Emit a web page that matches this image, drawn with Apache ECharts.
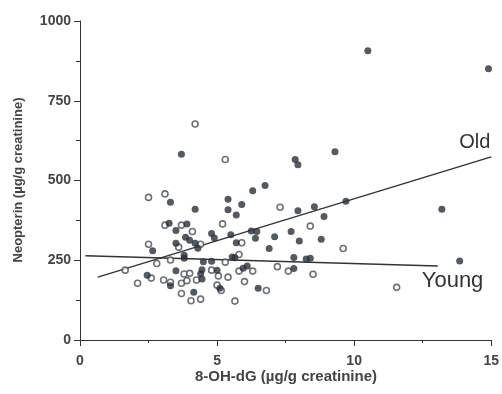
<!DOCTYPE html>
<html>
<head>
<meta charset="utf-8">
<script src="https://cdn.jsdelivr.net/npm/echarts@6/dist/echarts.min.js"></script>
<style>
  html, body { margin: 0; padding: 0; background: #fff; }
  #chart { width: 502px; height: 394px; }
</style>
</head>
<body>
<div id="chart"></div>
<script>
// Old group (filled dots): [8-OH-dG, neopterin]
const oldPoints = [
  [10.5, 907], [14.9, 850], [3.7, 582], [9.3, 590], [7.85, 566], [7.95, 549],
  [6.75, 484], [6.3, 468], [5.4, 441], [3.3, 432], [5.9, 425], [4.2, 410],
  [5.4, 408], [5.7, 392], [7.95, 405], [8.55, 418], [8.9, 387], [9.7, 435],
  [13.2, 410], [13.85, 248], [7.7, 340], [7.1, 324], [8.0, 310], [8.8, 316],
  [6.9, 287], [7.8, 259], [8.25, 254], [8.4, 256], [7.8, 224], [6.5, 162],
  [6.4, 319], [3.25, 366], [3.9, 364], [3.5, 343], [3.85, 322], [4.0, 313],
  [3.5, 303], [2.65, 280], [3.8, 266], [3.8, 256], [3.5, 217], [2.45, 203],
  [3.3, 170], [4.15, 150], [4.45, 191], [4.45, 220], [4.4, 208], [5.0, 219],
  [5.1, 162], [6.1, 232], [5.95, 225], [4.5, 245], [4.8, 247], [5.55, 260],
  [5.65, 258], [4.2, 303], [4.3, 288], [4.8, 334], [4.9, 320], [5.5, 330],
  [5.7, 305], [6.25, 342], [6.45, 340]
];

// Young group (open circles)
const youngPoints = [
  [4.2, 677], [5.3, 566], [2.5, 447], [3.1, 458], [7.3, 416], [8.4, 357],
  [9.6, 287], [7.2, 230], [7.6, 216], [8.5, 206], [11.55, 165], [6.8, 155],
  [3.1, 360], [3.7, 360], [4.1, 340], [5.2, 364], [2.5, 300], [3.6, 291],
  [3.3, 251], [2.8, 240], [1.65, 219], [3.8, 207], [4.0, 209], [2.6, 194],
  [3.05, 188], [3.3, 181], [2.1, 178], [3.7, 178], [3.9, 186], [3.7, 146],
  [4.05, 123], [4.4, 128], [4.25, 188], [4.8, 219], [5.05, 201], [5.4, 197],
  [5.0, 172], [5.15, 155], [5.65, 122], [6.0, 183], [5.8, 216], [6.3, 216],
  [5.3, 244], [5.8, 268], [4.4, 300], [5.9, 305]
];

// regression line end points
const oldLine = [[0.65, 197], [15, 574]];
const youngLine = [[0.2, 264], [13.05, 232]];

const xTicks = [0, 5, 10, 15];
const yTicks = [0, 250, 500, 750, 1000];

const INK = "#2b3038";
const TEXT = "#444";
const FONT = "Liberation Sans, Arial, sans-serif";

const chart = echarts.init(document.getElementById("chart"));

chart.setOption({
  animation: false,
  backgroundColor: "#fff",
  grid: { left: 80, right: 7, top: 21, bottom: 54 },
  xAxis: {
    type: "value",
    min: xTicks[0],
    max: xTicks[xTicks.length - 1],
    interval: 5,
    splitLine: { show: false },
    axisLine: { lineStyle: { color: "#333", width: 1 } },
    axisTick: { length: 6, lineStyle: { color: "#333" } },
    minorTick: { show: true, splitNumber: 2, length: 3, lineStyle: { color: "#333" } },
    axisLabel: { color: TEXT, fontFamily: FONT, fontSize: 14, fontWeight: "bold", margin: 14 },
  },
  yAxis: {
    type: "value",
    min: yTicks[0],
    max: yTicks[yTicks.length - 1],
    interval: 250,
    splitLine: { show: false },
    axisLine: { show: true, lineStyle: { color: "#333", width: 1 } },
    axisTick: { show: true, length: 6, lineStyle: { color: "#333" } },
    minorTick: { show: true, splitNumber: 2, length: 4, lineStyle: { color: "#333" } },
    axisLabel: {
      color: TEXT, fontFamily: FONT, fontSize: 14, fontWeight: "bold", margin: 9,
      formatter: (v) => String(v),
    },
  },
  graphic: [
    {
      type: "text",
      x: 286,
      y: 377,
      style: {
        text: "8-OH-dG (µg/g creatinine)",
        fill: TEXT,
        font: "bold 15px " + FONT,
        align: "center",
        verticalAlign: "middle",
      },
    },
    {
      type: "text",
      x: 18,
      y: 180,
      rotation: Math.PI / 2,
      style: {
        text: "Neopterin (µg/g creatinine)",
        fill: TEXT,
        font: "bold 13px " + FONT,
        align: "center",
        verticalAlign: "middle",
      },
    },
  ],
  series: [
    {
      name: "Young",
      type: "scatter",
      data: youngPoints,
      symbol: "circle",
      symbolSize: 6,
      itemStyle: { color: "#fff", borderColor: "#4a4d52", borderWidth: 1.6 },
      z: 3,
    },
    {
      name: "Old",
      type: "scatter",
      data: oldPoints,
      symbol: "circle",
      symbolSize: 7,
      itemStyle: { color: INK },
      z: 4,
    },
    {
      name: "Old",
      type: "line",
      data: oldLine,
      symbol: "none",
      lineStyle: { color: "#333", width: 1.4 },
      endLabel: {
        show: true,
        formatter: "Old",
        color: "#333",
        fontFamily: FONT,
        fontSize: 20,
        offset: [-40, -14],
      },
      z: 2,
    },
    {
      name: "Young",
      type: "line",
      data: youngLine,
      symbol: "none",
      lineStyle: { color: "#333", width: 1.4 },
      endLabel: {
        show: true,
        formatter: "Young",
        color: "#333",
        fontFamily: FONT,
        fontSize: 22,
        offset: [-24, 15],
      },
      z: 2,
    },
  ],
});
</script>
</body>
</html>
